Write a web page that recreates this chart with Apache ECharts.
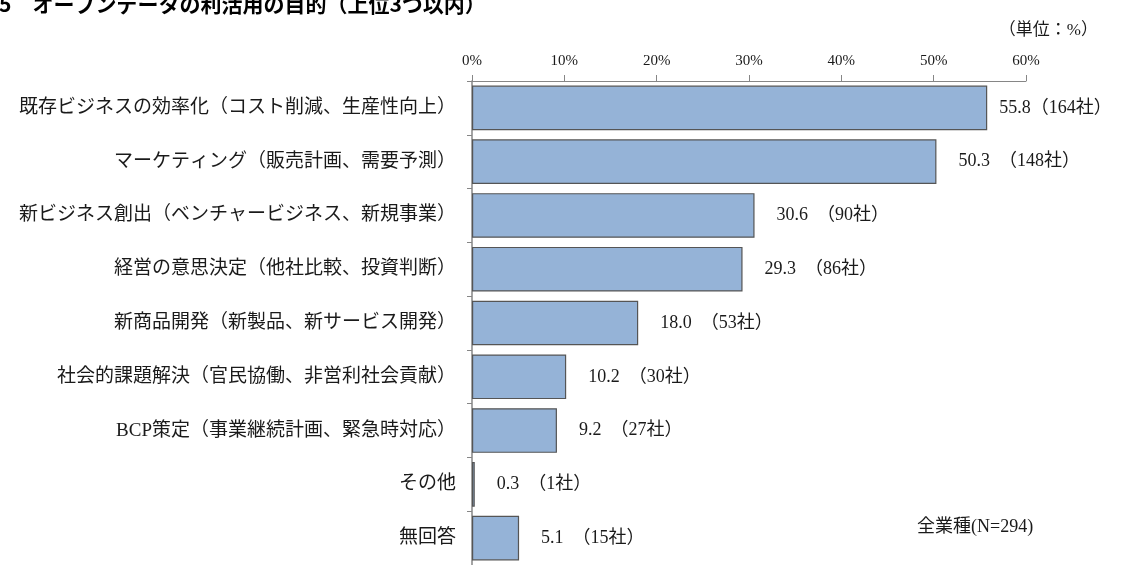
<!DOCTYPE html>
<html>
<head>
<meta charset="utf-8">
<script src="https://cdn.jsdelivr.net/npm/echarts@6/dist/echarts.min.js"></script>
<style>
  html, body { margin: 0; padding: 0; background: #fff; }
  #chart { width: 1125px; height: 565px; }
</style>
</head>
<body>
<div id="chart"></div>
<script>
// Purposes of using open data (up to three answers), all industries
const categories = [
  '既存ビジネスの効率化（コスト削減、生産性向上）',
  'マーケティング（販売計画、需要予測）',
  '新ビジネス創出（ベンチャービジネス、新規事業）',
  '経営の意思決定（他社比較、投資判断）',
  '新商品開発（新製品、新サービス開発）',
  '社会的課題解決（官民協働、非営利社会貢献）',
  'BCP策定（事業継続計画、緊急時対応）',
  'その他',
  '無回答'
];
const percents = [55.8, 50.3, 30.6, 29.3, 18.0, 10.2, 9.2, 0.3, 5.1];
const companies = [164, 148, 90, 86, 53, 30, 27, 1, 15];
const axisTicks = [0, 10, 20, 30, 40, 50, 60];

const FONT = "'Liberation Serif', 'Noto Sans CJK JP', serif";
const TEXT = '#1a1a1a';

const chart = echarts.init(document.getElementById('chart'));

const seriesData = percents.map((v, i) => ({
  value: v,
  label: { distance: i === 0 ? 12 : 22 }
}));

chart.setOption({
  animation: false,
  backgroundColor: '#ffffff',
  title: {
    text: '5　オープンデータの利活用の目的（上位3つ以内）',
    left: -6,
    top: -11,
    textStyle: {
      fontFamily: "'Noto Sans CJK JP', sans-serif",
      fontWeight: 'bold',
      fontSize: 21,
      color: '#000'
    }
  },
  graphic: [
    {
      type: 'text',
      right: 27,
      top: 22,
      style: { text: '（単位：%）', font: '17px ' + FONT, fill: TEXT }
    },
    {
      type: 'text',
      left: 917,
      top: 518,
      style: { text: '全業種(N=294)', font: '18px ' + FONT, fill: TEXT }
    }
  ],
  grid: { left: 472, top: 81, width: 554, height: 491, containLabel: false },
  xAxis: {
    type: 'value',
    position: 'top',
    min: axisTicks[0],
    max: axisTicks[axisTicks.length - 1],
    interval: axisTicks[1] - axisTicks[0],
    axisLine: { show: true, lineStyle: { color: '#868686', width: 1 } },
    axisTick: { show: true, length: 6, lineStyle: { color: '#868686' } },
    splitLine: { show: false },
    axisLabel: {
      formatter: '{value}%',
      margin: 12,
      fontFamily: FONT,
      fontSize: 15,
      color: TEXT
    }
  },
  yAxis: {
    type: 'category',
    data: categories,
    inverse: true,
    axisLine: { show: true, lineStyle: { color: '#868686', width: 1.5 } },
    axisTick: { show: true, length: 5, lineStyle: { color: '#868686' } },
    axisLabel: {
      margin: 16,
      fontFamily: FONT,
      fontSize: 19,
      color: TEXT
    }
  },
  series: [{
    type: 'bar',
    data: seriesData,
    barCategoryGap: '17%',
    itemStyle: { color: '#95B3D7', borderColor: '#555555', borderWidth: 1.2 },
    label: {
      show: true,
      position: 'right',
      fontFamily: FONT,
      fontSize: 18,
      color: TEXT,
      formatter: p => p.dataIndex === 0
        ? p.value.toFixed(1) + '（' + companies[p.dataIndex] + '社）'
        : p.value.toFixed(1) + '  （' + companies[p.dataIndex] + '社）'
    }
  }]
});
</script>
</body>
</html>
